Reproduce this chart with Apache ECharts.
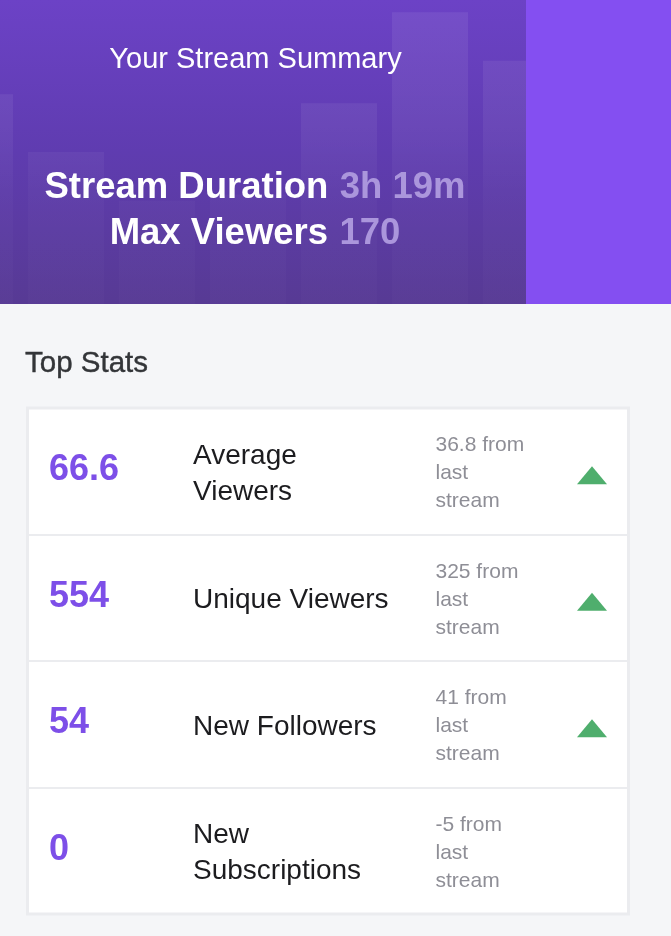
<!DOCTYPE html>
<html>
<head>
<meta charset="utf-8">
<title>Your Stream Summary</title>
<script src="https://cdn.jsdelivr.net/npm/echarts@6/dist/echarts.min.js"></script>
<style>
    html, body { margin: 0; padding: 0; background: #f5f6f8; }
    #main { width: 671px; height: 936px; }
</style>
</head>
<body>
<div id="main"></div>
<script>
// header backdrop bars, share of the panel height
var barNames = ['b1', 'b2', 'b3', 'b4', 'b5', 'b6', 'b7'];
var barValues = [69, 50, 34, 36, 66, 96, 80];

var headerTitle = 'Your Stream Summary';
var durationValue = '3h 19m';
var maxViewers = '170';
var sectionTitle = 'Top Stats';

var metrics = ['Average\nViewers', 'Unique Viewers', 'New Followers', 'New\nSubscriptions'];
var statValues = ['66.6', '554', '54', '0'];
var deltas = [36.8, 325, 41, -5];
var deltaLabels = ['36.8', '325', '41', '-5'];

var fontName = '"Liberation Sans", Arial, sans-serif';
var myChart = echarts.init(document.getElementById('main'));

function column(x, texts) {
    var out = [];
    for (var i = 0; i < metrics.length; i++) {
        out.push({value: [x, metrics[i]], text: texts[i]});
    }
    return out;
}

function textSeries(x, texts, size, weight, color, lineHeight, offsetY) {
    return {
        type: 'scatter',
        xAxisIndex: 1,
        yAxisIndex: 1,
        symbolSize: 1,
        itemStyle: {color: 'transparent', opacity: 1},
        silent: true,
        z: 5,
        label: {
            show: true,
            position: 'right',
            distance: 0,
            offset: [0, offsetY],
            align: 'left',
            fontFamily: fontName,
            fontSize: size,
            fontWeight: weight,
            color: color,
            lineHeight: lineHeight,
            formatter: function (p) { return p.data.text; }
        },
        data: column(x, texts)
    };
}

function headerLine(y, label, value) {
    return {
        type: 'text', z: 20, silent: true, x: 255, y: y,
        style: {
            text: '{a|' + label + '} {b|' + value + '}',
            align: 'center', verticalAlign: 'middle',
            rich: {
                a: {fill: '#ffffff', font: 'bold 36.5px ' + fontName},
                b: {fill: '#ab96dc', font: 'bold 36.5px ' + fontName, padding: [0, 0, 0, 8]}
            }
        }
    };
}

var deltaTexts = [];
var upMarks = [];
for (var i = 0; i < deltas.length; i++) {
    deltaTexts.push(deltaLabels[i] + ' from\nlast\nstream');
    if (deltas[i] > 0) {
        upMarks.push([564.5, metrics[i]]);
    }
}

var option = {
    animation: false,
    backgroundColor: '#f5f6f8',
    graphic: [
        {
            type: 'rect', z: -1, silent: true,
            shape: {x: 0, y: 0, width: 526, height: 304},
            style: {
                fill: new echarts.graphic.LinearGradient(0, 0, 0, 1, [
                    {offset: 0, color: '#6c42c6'},
                    {offset: 0.5, color: '#5f3cb0'},
                    {offset: 1, color: '#573a94'}
                ])
            }
        },
        {
            type: 'rect', z: 10, silent: true,
            shape: {x: 526, y: 0, width: 145, height: 304},
            style: {fill: '#844ff1'}
        },
        {
            type: 'text', z: 20, silent: true, x: 255.5, y: 60,
            style: {
                text: headerTitle, fill: '#ffffff', align: 'center', verticalAlign: 'middle',
                font: '29px ' + fontName
            }
        },
        headerLine(188, 'Stream Duration', durationValue),
        headerLine(234, 'Max Viewers', maxViewers),
        {
            type: 'text', z: 20, silent: true, x: 25, y: 364,
            style: {
                text: sectionTitle, fill: '#333538', align: 'left', verticalAlign: 'middle',
                font: '29.5px ' + fontName, stroke: '#333538', lineWidth: 0.4
            }
        }
    ],
    grid: [
        {left: -70.5, top: 0, width: 637, height: 304, outerBoundsMode: 'none'},
        {
            left: 27.5, top: 408, width: 601, height: 506,
            show: true, backgroundColor: '#ffffff', borderColor: '#ebecef', borderWidth: 3
        }
    ],
    xAxis: [
        {type: 'category', gridIndex: 0, data: barNames, show: false},
        {type: 'value', gridIndex: 1, min: 0, max: 601, show: false}
    ],
    yAxis: [
        {type: 'value', gridIndex: 0, min: 0, max: 100, show: false},
        {
            type: 'category', gridIndex: 1, data: metrics, inverse: true,
            axisLine: {show: false},
            axisTick: {show: false},
            axisLabel: {show: false},
            splitLine: {show: true, lineStyle: {color: '#ebecef', width: 2}}
        }
    ],
    series: [
        {
            type: 'bar',
            xAxisIndex: 0,
            yAxisIndex: 0,
            barWidth: 76,
            silent: true,
            itemStyle: {
                color: new echarts.graphic.LinearGradient(0, 0, 0, 304, [
                    {offset: 0, color: 'rgba(255,255,255,0.07)'},
                    {offset: 0.4, color: 'rgba(255,255,255,0.06)'},
                    {offset: 0.65, color: 'rgba(255,255,255,0.025)'},
                    {offset: 1, color: 'rgba(255,255,255,0.015)'}
                ], true)
            },
            data: barValues
        },
        textSeries(21, statValues, 36, 'bold', '#7d4fe8', 40, -1),
        textSeries(165, metrics, 28, 'normal', '#1c1c1f', 36, 3),
        textSeries(407.5, deltaTexts, 21, 'normal', '#8e8e96', 28, 2),
        {
            type: 'scatter',
            xAxisIndex: 1,
            yAxisIndex: 1,
            symbol: 'triangle',
            symbolSize: [30, 18],
            symbolOffset: [0, 4],
            silent: true,
            itemStyle: {color: '#4fae6d', opacity: 1},
            data: upMarks
        }
    ]
};

myChart.setOption(option);
</script>
</body>
</html>
